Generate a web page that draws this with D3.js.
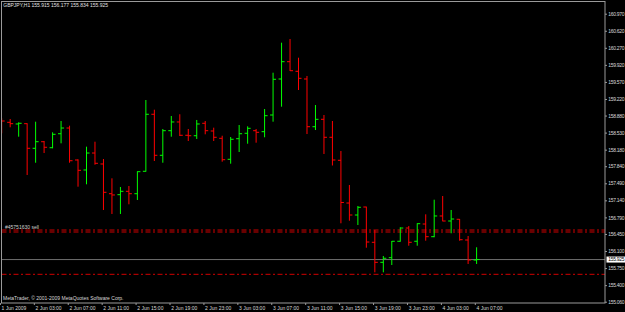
<!DOCTYPE html>
<html>
<head>
<meta charset="utf-8">
<script src="https://cdnjs.cloudflare.com/ajax/libs/d3/7.8.5/d3.min.js"></script>
<style>
  body { margin: 0; background: #000; }
  svg { display: block; }
  text { font-family: "Liberation Sans", Arial, sans-serif; font-size: 5px; }
</style>
</head>
<body>
<div id="chart-area"></div>
<script>
// hourly bars, 1 Jun 23:00 .. 4 Jun 07:00
var opens  = [158.809, 158.741, 158.707, 158.713, 158.208, 158.343, 158.220, 158.507, 158.624, 157.968,
              157.763, 158.111, 157.886, 157.276, 157.256, 157.325, 157.276, 157.736, 158.906, 158.064,
              158.569, 158.748, 158.475, 158.466, 158.721, 158.563, 158.413, 157.982, 158.405, 158.516,
              158.569, 158.549, 158.891, 159.630, 159.985, 159.788, 159.630, 158.651, 158.803, 158.434,
              157.962, 157.085, 156.839, 157.003, 156.279, 155.868, 155.963, 156.300, 156.572, 156.300,
              156.654, 156.394, 156.819, 156.716, 156.751, 156.326, 155.915];
var highs  = [158.823, 158.809, 158.741, 158.721, 158.754, 158.358, 158.536, 158.768, 158.672, 157.982,
              158.241, 158.343, 157.988, 157.592, 157.414, 157.434, 157.736, 159.199, 159.000, 158.604,
              158.871, 158.906, 158.604, 158.789, 158.768, 158.631, 158.466, 158.440, 158.686, 158.659,
              158.604, 159.014, 159.759, 160.375, 160.451, 160.067, 159.692, 159.096, 158.891, 158.768,
              158.152, 157.455, 157.024, 157.010, 156.531, 155.998, 156.306, 156.587, 156.613, 156.669,
              156.853, 157.153, 157.229, 156.942, 156.757, 156.408, 156.177];
var lows   = [158.516, 158.639, 158.446, 157.660, 157.912, 158.111, 158.208, 158.310, 157.912, 157.420,
              157.469, 157.871, 156.942, 156.860, 156.860, 157.059, 157.147, 157.728, 157.947, 157.912,
              158.446, 158.460, 158.358, 158.399, 158.495, 158.358, 157.933, 157.892, 158.132, 158.302,
              158.323, 158.434, 158.754, 159.062, 159.794, 159.404, 158.501, 158.583, 158.091, 157.855,
              156.669, 156.722, 156.634, 156.168, 155.663, 155.663, 155.813, 156.291, 156.209, 156.209,
              156.312, 156.382, 156.710, 156.464, 156.312, 155.834, 155.834];
var closes = [158.768, 158.713, 158.721, 158.208, 158.343, 158.229, 158.495, 158.624, 157.953, 157.756,
              158.111, 157.900, 157.305, 157.250, 157.325, 157.276, 157.728, 158.906, 158.064, 158.569,
              158.748, 158.475, 158.466, 158.707, 158.569, 158.434, 157.974, 158.393, 158.507, 158.618,
              158.536, 158.877, 159.624, 159.985, 159.800, 159.644, 158.651, 158.803, 158.434, 157.968,
              157.096, 156.839, 156.997, 156.285, 155.868, 155.951, 156.300, 156.572, 156.279, 156.661,
              156.394, 156.819, 156.716, 156.757, 156.332, 155.916, 155.925];

var timeLabels = ["1 Jun 2009", "2 Jun 03:00", "2 Jun 07:00", "2 Jun 11:00", "2 Jun 15:00",
                  "2 Jun 19:00", "2 Jun 23:00", "3 Jun 03:00", "3 Jun 07:00", "3 Jun 11:00",
                  "3 Jun 15:00", "3 Jun 19:00", "3 Jun 23:00", "4 Jun 03:00", "4 Jun 07:00"];
var timeLabelBars = [0, 4, 8, 12, 16, 20, 24, 28, 32, 36, 40, 44, 48, 52, 56];

var priceTicks = [160.970, 160.620, 160.270, 159.920, 159.570, 159.220, 158.880, 158.530, 158.180,
                  157.840, 157.490, 157.140, 156.790, 156.450, 156.100, 155.750, 155.400, 155.060];

var orderLines = [156.531, 156.490, 155.622];
var orderLabel = "#45751630 sell";
var bid = 155.925;
var title = "GBPJPY,H1  155.915 156.177 155.834 155.925";
var copyright = "MetaTrader, \u00a9 2001-2009 MetaQuotes Software Corp.";

var svgWidth = 625,
    svgHeight = 312,
    frame = { left: 1.5, top: 1.5, right: 605, bottom: 303 };

var bars = opens.map(function(o, i) {
  return { i: i, open: o, high: highs[i], low: lows[i], close: closes[i] };
});

var svg = d3.select("#chart-area")
            .append("svg")
            .attr("width", svgWidth)
            .attr("height", svgHeight);

svg.append("rect")
   .attr("width", svgWidth)
   .attr("height", svgHeight)
   .attr("fill", "#000");

var x = d3.scaleLinear().domain([0, 56]).range([1.7, 476.6]);
var y = d3.scaleLinear().domain([155.06, 160.97]).range([301.7, 13.7]);

svg.append("clipPath")
   .attr("id", "plot-clip")
   .append("rect")
   .attr("x", frame.left)
   .attr("y", frame.top)
   .attr("width", frame.right - frame.left)
   .attr("height", frame.bottom - frame.top);

var plot = svg.append("g").attr("clip-path", "url(#plot-clip)");

// bid line
plot.append("line")
    .attr("x1", frame.left).attr("x2", frame.right)
    .attr("y1", y(bid)).attr("y2", y(bid))
    .attr("stroke", "#6e6e6e")
    .attr("stroke-width", 1);

// order lines
plot.selectAll(".order")
    .data(orderLines)
    .enter().append("line")
    .attr("class", "order")
    .attr("x1", frame.left).attr("x2", frame.right)
    .attr("y1", function(d) { return y(d); })
    .attr("y2", function(d) { return y(d); })
    .attr("stroke", "#d00000")
    .attr("stroke-width", 1)
    .attr("stroke-dasharray", "5,2.5,2,2.5");

// OHLC bars
var bar = plot.selectAll(".bar")
              .data(bars)
              .enter().append("g")
              .attr("class", "bar")
              .attr("stroke", function(d) { return d.close >= d.open ? "#00ff00" : "#ff0000"; })
              .attr("stroke-width", 1);

bar.append("line")
   .attr("x1", function(d) { return x(d.i); })
   .attr("x2", function(d) { return x(d.i); })
   .attr("y1", function(d) { return y(d.high); })
   .attr("y2", function(d) { return y(d.low); });

bar.append("line")
   .attr("x1", function(d) { return x(d.i) - 3; })
   .attr("x2", function(d) { return x(d.i); })
   .attr("y1", function(d) { return y(d.open); })
   .attr("y2", function(d) { return y(d.open); });

bar.append("line")
   .attr("x1", function(d) { return x(d.i); })
   .attr("x2", function(d) { return x(d.i) + 3; })
   .attr("y1", function(d) { return y(d.close); })
   .attr("y2", function(d) { return y(d.close); });

// frame
svg.append("rect")
   .attr("x", frame.left)
   .attr("y", frame.top)
   .attr("width", frame.right - frame.left)
   .attr("height", frame.bottom - frame.top)
   .attr("fill", "none")
   .attr("stroke", "#9a9a9a")
   .attr("stroke-width", 1);

// price axis
var yAxisGroup = svg.append("g")
                    .attr("transform", "translate(" + frame.right + ",0)")
                    .attr("color", "#9a9a9a")
                    .call(d3.axisRight(y)
                            .tickValues(priceTicks)
                            .tickSize(2)
                            .tickFormat(d3.format(".3f")));
yAxisGroup.select(".domain").remove();
yAxisGroup.selectAll("text")
          .attr("x", 3.3)
          .attr("fill", "#d8d8d8")
          .style("font-size", "5px")
          .style("letter-spacing", "-0.3px")
          .style("font-family", "'Liberation Sans', Arial, sans-serif");

// time axis
var xAxisGroup = svg.append("g")
                    .attr("transform", "translate(-1.8," + frame.bottom + ")")
                    .attr("color", "#9a9a9a")
                    .call(d3.axisBottom(x)
                            .tickValues(timeLabelBars)
                            .tickSize(2)
                            .tickFormat(function(d, j) { return timeLabels[j]; }));
xAxisGroup.select(".domain").remove();
xAxisGroup.selectAll("text")
          .attr("text-anchor", "start")
          .attr("x", 1.2)
          .attr("y", 3)
          .attr("fill", "#d8d8d8")
          .style("font-size", "5px")
          .style("font-family", "'Liberation Sans', Arial, sans-serif");

// bid label
svg.append("rect")
   .attr("x", frame.right + 1.5)
   .attr("y", y(bid) - 3)
   .attr("width", 18.5)
   .attr("height", 6)
   .attr("fill", "#ffffff");
svg.append("text")
   .attr("x", frame.right + 3.3)
   .attr("y", y(bid) + 1.8)
   .attr("fill", "#000")
   .style("letter-spacing", "-0.3px")
   .text(d3.format(".3f")(bid));

svg.append("text")
   .attr("x", 3.3)
   .attr("y", 7.4)
   .attr("fill", "#e0e0e0")
   .text(title);

svg.append("text")
   .attr("x", 5)
   .attr("y", 229.3)
   .attr("fill", "#d0d0d0")
   .text(orderLabel);

svg.append("text")
   .attr("x", 3)
   .attr("y", 300.4)
   .attr("fill", "#d8d8d8")
   .text(copyright);
</script>
</body>
</html>
